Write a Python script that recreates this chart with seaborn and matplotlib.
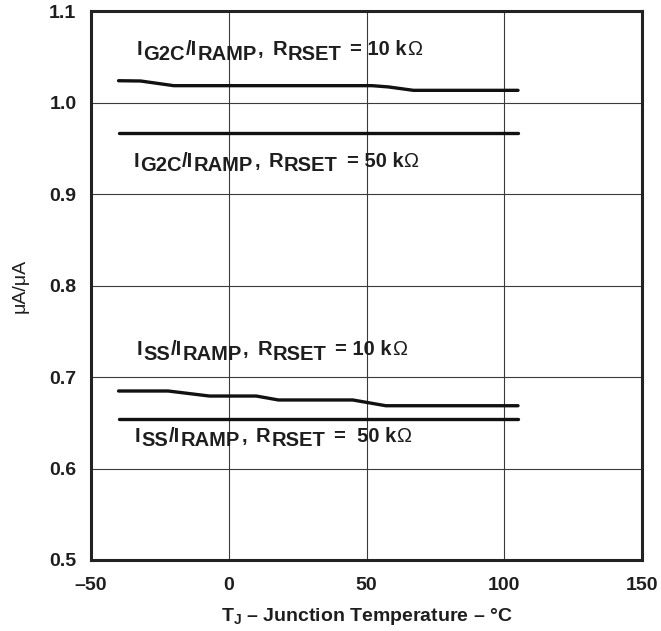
import matplotlib
matplotlib.use("Agg")
import matplotlib.pyplot as plt
import matplotlib.transforms as mtransforms
import seaborn as sns
import pandas as pd

# ---- data ----
g2c10_t = [-40, -32, -20, 52, 58, 67, 105]
g2c10_v = [1.0238, 1.0235, 1.0184, 1.0184, 1.0170, 1.0133, 1.0133]

g2c50_t = [-40, 105]
g2c50_v = [0.967, 0.967]

iss10_t = [-40, -22, -7, 10, 18, 45, 57, 105]
iss10_v = [0.6847, 0.6847, 0.6792, 0.6792, 0.6749, 0.6749, 0.6686, 0.6686]

iss50_t = [-40, 105]
iss50_v = [0.6538, 0.6538]

series_names = ["G2C 10k", "G2C 50k", "SS 10k", "SS 50k"]

x_ticks = [-50, 0, 50, 100, 150]
y_ticks = [0.5, 0.6, 0.7, 0.8, 0.9, 1.0, 1.1]

# curve labels: (text, kind) pieces; kind "m" main, "s" subscript, "g" gap(px), "o" omega
label_pieces = [
    [("I", "m"), ("G2C", "s"), ("/I", "m"), ("RAMP", "s"), (",", "m"), (8, "g"),
     ("R", "m"), ("RSET", "s"), (8, "g"), ("= 10 k", "m"), ("\u03a9", "o")],
    [("I", "m"), ("G2C", "s"), ("/I", "m"), ("RAMP", "s"), (",", "m"), (8, "g"),
     ("R", "m"), ("RSET", "s"), (8, "g"), ("= 50 k", "m"), ("\u03a9", "o")],
    [("I", "m"), ("SS", "s"), ("/I", "m"), ("RAMP", "s"), (",", "m"), (8, "g"),
     ("R", "m"), ("RSET", "s"), (8, "g"), ("= 10 k", "m"), ("\u03a9", "o")],
    [("I", "m"), ("SS", "s"), ("/I", "m"), ("RAMP", "s"), (",", "m"), (8, "g"),
     ("R", "m"), ("RSET", "s"), (8, "g"), ("=  50 k", "m"), ("\u03a9", "o")],
]
label_x = [-33.3, -34.65, -33.4, -34.0]
label_y = [1.0519, 0.9298, 0.724, 0.6293]

frames = []
for name, t, v in zip(series_names,
                      [g2c10_t, g2c50_t, iss10_t, iss50_t],
                      [g2c10_v, g2c50_v, iss10_v, iss50_v]):
    frames.append(pd.DataFrame({"T": t, "ratio": v, "series": name}))
df = pd.concat(frames, ignore_index=True)

sns.set_style("white")
plt.rcParams["font.family"] = ["Liberation Sans", "DejaVu Sans"]
plt.rcParams["mathtext.fontset"] = "custom"
plt.rcParams["mathtext.rm"] = "Liberation Sans"
plt.rcParams["mathtext.bf"] = "Liberation Sans:bold"
plt.rcParams["mathtext.it"] = "Liberation Sans:italic"

TXT = "#1e1e1e"

fig = plt.figure(figsize=(6.61, 6.31), dpi=100)
ax = fig.add_axes([91 / 661, 1 - 560 / 631, (642 - 91) / 661, (560 - 11) / 631])

sns.lineplot(data=df, x="T", y="ratio", hue="series", units="series",
             estimator=None, palette=["#111111"] * 4, linewidth=2.4,
             legend=False, ax=ax, sort=False)

ax.set_xlim(-50, 150)
ax.set_ylim(0.5, 1.1)
ax.set_xticks(x_ticks)
ax.set_yticks(y_ticks)
ax.set_xticklabels([f"{t}".replace("-", "\u2013") for t in x_ticks],
                   fontsize=14, fontweight="bold", color=TXT)
ax.set_yticklabels([f"{t:.1f}" for t in y_ticks],
                   fontsize=14, fontweight="bold", color=TXT)
ax.tick_params(axis="x", length=0, pad=12)
ax.tick_params(axis="y", length=0, pad=10.5)
ax.grid(True, color="#3a3a3a", linewidth=0.8)
for s in ax.spines.values():
    s.set_color("#222222")
    s.set_linewidth(2.2)

ax.set_xlabel(r"$\mathbf{T_J}$ \u2013 Junction Temperature \u2013 \u00b0C".encode().decode("unicode_escape"),
              fontsize=14, fontweight="bold", color=TXT, labelpad=9)
ax.set_ylabel("\u03bcA/\u03bcA", fontsize=14, color=TXT, labelpad=15)

renderer = fig.canvas.get_renderer()


def rich(x, y, pieces):
    dx = 0.0
    for val, kind in pieces:
        if kind == "g":
            dx += val
            continue
        if kind == "s":
            size, dy, weight = 14.5, -4.5, "bold"
        elif kind == "o":
            size, dy, weight = 14.5, 0, "normal"
            dx -= 1.0
        else:
            size, dy, weight = 14.5, 0, "bold"
        tr = mtransforms.offset_copy(ax.transData, fig=fig, x=dx, y=dy, units="dots")
        t = ax.text(x, y, val, transform=tr, fontsize=size, fontweight=weight,
                    color=TXT, ha="left", va="baseline")
        dx += t.get_window_extent(renderer).width + 0.8


for pcs, lx, ly in zip(label_pieces, label_x, label_y):
    rich(lx, ly, pcs)

fig.savefig("out.png", dpi=100)
